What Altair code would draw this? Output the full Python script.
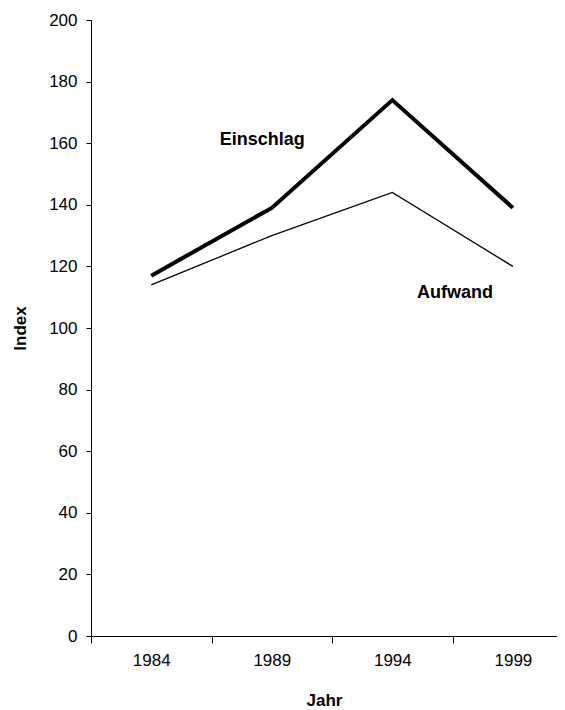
import altair as alt
import pandas as pd

years = [1984, 1989, 1994, 1999]
einschlag = [117, 139, 174, 139]
aufwand = [114, 130, 144, 120]
series_names = ["Einschlag", "Aufwand"]

# annotation labels (text, year position, index position)
label_text = ["Einschlag", "Aufwand"]
label_year = [1988.6, 1996.6]
label_value = [161, 111.5]

y_ticks = list(range(0, 201, 20))
boundaries = [y - 2.5 for y in years]

rows = []
for name, vals in zip(series_names, [einschlag, aufwand]):
    for yr, v in zip(years, vals):
        rows.append({"Jahr": yr, "Index": v, "Serie": name})
df = pd.DataFrame(rows)
lab = pd.DataFrame({"text": label_text, "Jahr": label_year, "Index": label_value})

FONT = "Liberation Sans"

x_scale = alt.Scale(domain=[1981.5, 2000.83], nice=False, zero=False)
y_scale = alt.Scale(domain=[0, 200], nice=False)

x_axis = alt.Axis(
    values=sorted(boundaries + years),
    format="d",
    labelExpr="datum.value % 5 == 4 ? datum.label : ''",
    labelOverlap=False,
    tickOpacity={"condition": {"test": "datum.value % 5 == 4", "value": 0}, "value": 1},
    tickSize=7,
    labelPadding=9,
    grid=False,
    title="Jahr",
    titlePadding=24,
)
y_axis = alt.Axis(
    values=y_ticks,
    tickSize=5,
    labelPadding=9,
    grid=False,
    title="Index",
    titlePadding=19,
)

lines = alt.Chart(df).mark_line(color="black").encode(
    x=alt.X("Jahr:Q", scale=x_scale, axis=x_axis),
    y=alt.Y("Index:Q", scale=y_scale, axis=y_axis),
    detail="Serie:N",
    strokeWidth=alt.StrokeWidth(
        "Serie:N",
        scale=alt.Scale(domain=series_names, range=[4, 1.3]),
        legend=None,
    ),
)

texts = alt.Chart(lab).mark_text(
    font=FONT, fontSize=18, fontWeight="bold", color="black"
).encode(
    x=alt.X("Jahr:Q", scale=x_scale),
    y=alt.Y("Index:Q", scale=y_scale),
    text="text:N",
)

chart = (
    alt.layer(lines, texts)
    .properties(
        width=466,
        height=616,
        autosize=alt.AutoSizeParams(type="none"),
        padding={"left": 83, "top": 12, "right": 0, "bottom": 72},
    )
    .configure_view(stroke=None)
    .configure_axis(
        domainColor="black",
        tickColor="black",
        labelColor="black",
        titleColor="black",
        labelFont=FONT,
        titleFont=FONT,
        labelFontSize=17,
        titleFontSize=17,
        titleFontWeight="bold",
        domainWidth=1,
        tickWidth=1,
    )
)

chart.save("out.html", embed_options={"renderer": "svg", "actions": False})
